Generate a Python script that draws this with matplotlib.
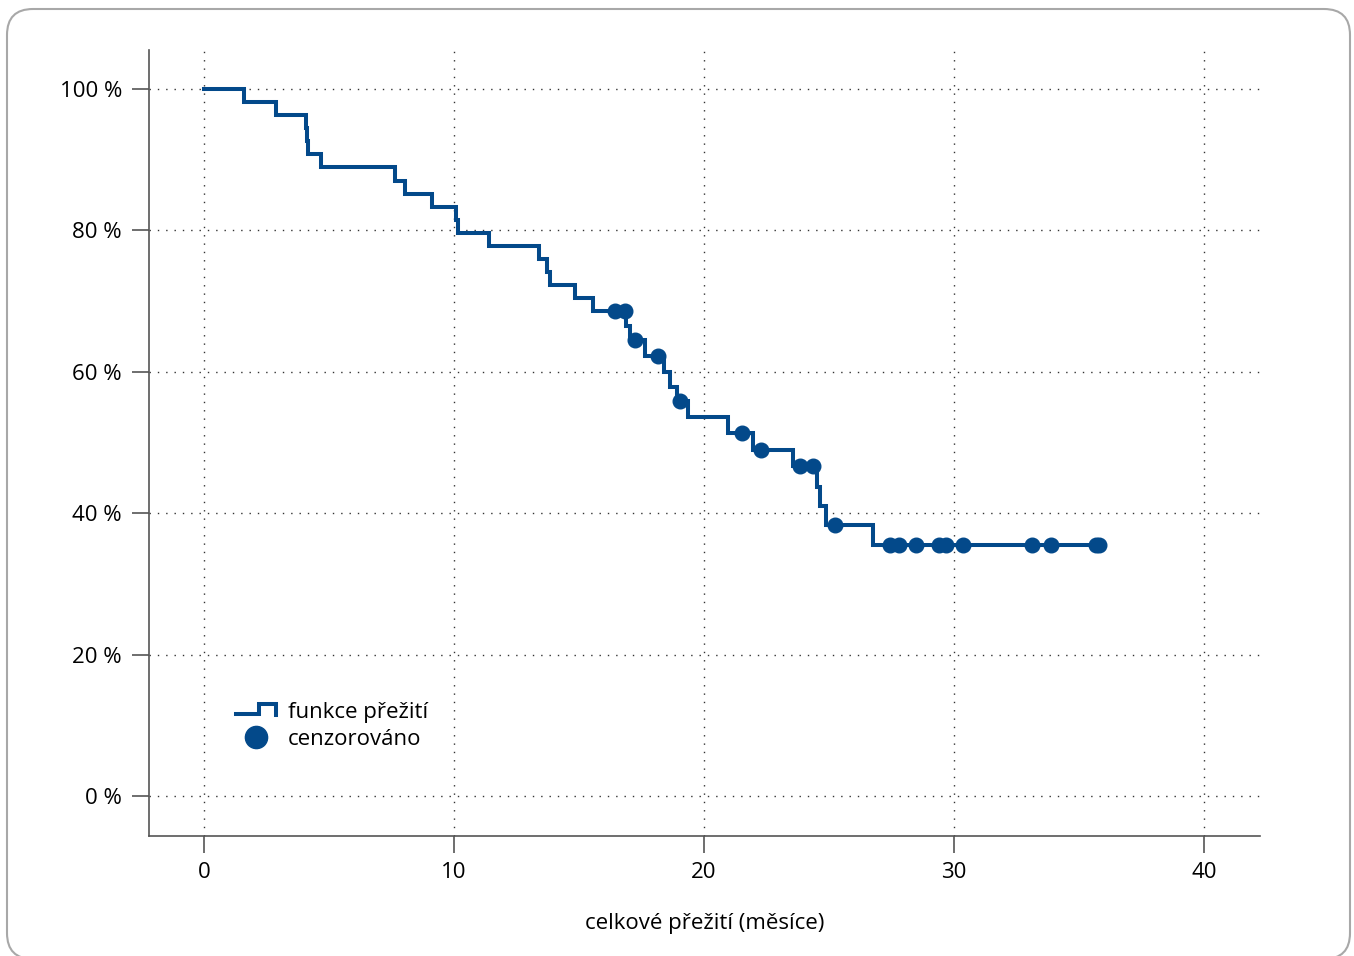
import numpy as np
import matplotlib
matplotlib.use("Agg")
import matplotlib.pyplot as plt
from matplotlib.lines import Line2D
from matplotlib.legend_handler import HandlerBase
from matplotlib.patches import FancyBboxPatch

# ---- data ----
event_times = [0, 1.6, 2.88, 4.07, 4.12, 4.17, 4.68, 7.64, 8.04, 9.13, 10.08, 10.14,
               11.4, 13.41, 13.73, 13.84, 14.84, 15.57, 16.9, 17.02, 17.64, 18.4,
               18.64, 18.93, 19.37, 20.95, 21.94, 23.55, 24.53, 24.64, 24.88, 26.77]
survival = [100, 98.15, 96.3, 94.44, 92.59, 90.74, 88.89, 87.04, 85.19, 83.33, 81.48,
            79.63, 77.78, 75.93, 74.07, 72.22, 70.37, 68.52, 66.5, 64.5, 62.2, 60.0,
            57.9, 55.8, 53.6, 51.4, 49.0, 46.6, 43.7, 41.0, 38.3, 35.5]
censor_times = [16.44, 16.84, 17.24, 18.17, 19.04, 21.52, 22.27, 23.84, 24.36, 25.24,
                27.44, 27.8, 28.47, 29.4, 29.67, 30.36, 33.12, 33.88, 35.68, 35.8]
follow_up_end = 35.8
x_ticks = [0, 10, 20, 30, 40]
y_ticks = [0, 20, 40, 60, 80, 100]
y_tick_labels = ["0 %", "20 %", "40 %", "60 %", "80 %", "100 %"]
x_label = "celkové přežití (měsíce)"
legend_labels = ["funkce přežití", "cenzorováno"]

BLUE = "#03498a"
FONT = "Open Sans"
plt.rcParams["font.family"] = [FONT, "DejaVu Sans"]

W, H, DPI = 1354, 956, 100
fig = plt.figure(figsize=(W / DPI, H / DPI), dpi=DPI)

# rounded frame around the figure
frame = FancyBboxPatch((7, -3), 1343, 950, boxstyle="round,pad=0,rounding_size=26",
                       transform=None, facecolor="none", edgecolor="#a8a8a8", lw=1.5)
fig.patches.append(frame)

ax = fig.add_axes([149 / W, 1 - 836 / H, (1260 - 149) / W, (836 - 50) / H])

LW = 2.9
# step function
xs = list(event_times) + [follow_up_end]
ys = list(survival) + [survival[-1]]
ax.step(xs, ys, where="post", color=BLUE, lw=LW, zorder=3, solid_joinstyle="miter")

# censored marks: value of the step function at each censoring time
et = np.array(event_times)
sv = np.array(survival)
idx = np.searchsorted(et, np.array(censor_times), side="right") - 1
ax.plot(censor_times, sv[idx], "o", color=BLUE, ms=10.5, mec=BLUE, zorder=4)

ax.set_xlim(-2.2, 42.24)
ax.set_ylim(-5.66, 105.5)
ax.set_xticks(x_ticks)
ax.set_yticks(y_ticks)
ax.set_yticklabels(y_tick_labels)
ax.grid(True, linestyle=(0, (1, 5)), color="#333333", lw=1.0)
ax.set_axisbelow(True)

for s in ["top", "right"]:
    ax.spines[s].set_visible(False)
for s in ["left", "bottom"]:
    ax.spines[s].set_color("#555555")
    ax.spines[s].set_linewidth(1.2)
ax.tick_params(axis="both", direction="out", length=12.5, width=1.2, color="#555555",
               labelsize=16, labelcolor="#000000")
ax.tick_params(axis="y", pad=7)
ax.tick_params(axis="x", pad=6)
ax.set_xlabel(x_label, fontsize=16, color="#000000", labelpad=22)


class StepHandler(HandlerBase):
    def create_artists(self, legend, orig_handle, xdescent, ydescent, width, height,
                       fontsize, trans):
        x0 = -xdescent
        xs_ = [x0, x0 + 0.57 * width, x0 + 0.57 * width, x0 + width, x0 + width]
        ys_ = [-ydescent + 0.25 * height, -ydescent + 0.25 * height,
               -ydescent + 0.9 * height, -ydescent + 0.9 * height,
               -ydescent + 0.2 * height]
        ln = Line2D(xs_, ys_, color=BLUE, lw=LW, solid_joinstyle="miter")
        ln.set_transform(trans)
        return [ln]


step_proxy = Line2D([], [], color=BLUE, lw=LW)
dot_proxy = Line2D([], [], ls="none", marker="o", ms=16, color=BLUE)
leg = ax.legend([step_proxy, dot_proxy], legend_labels,
                handler_map={step_proxy: StepHandler()},
                loc="upper left", bbox_to_anchor=((236 - 149) / 1111, (836 - 702) / 786),
                frameon=False, fontsize=16, handlelength=1.8, handletextpad=0.55,
                labelspacing=0.25, borderpad=0, borderaxespad=0)
for t in leg.get_texts():
    t.set_color("#000000")

fig.savefig("out.png", dpi=DPI)
